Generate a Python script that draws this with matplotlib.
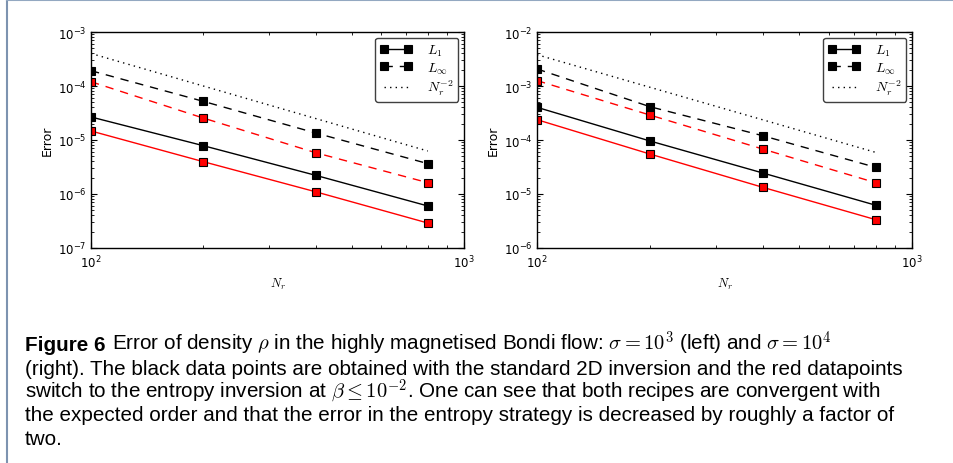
import numpy as np
import matplotlib
matplotlib.use("Agg")
import matplotlib.pyplot as plt
from matplotlib.lines import Line2D
from matplotlib.ticker import LogLocator, NullFormatter

plt.rcParams["font.family"] = ["DejaVu Sans"]
plt.rcParams["mathtext.fontset"] = "dejavusans"
plt.rcParams["axes.unicode_minus"] = False

# Radial resolution of the runs
N = [100, 200, 400, 800]

# sigma = 1e3: standard 2D inversion (black) and entropy switch (red)
left_l1_std = [2.67e-5, 7.85e-6, 2.22e-6, 6.0e-7]
left_linf_std = [1.92e-4, 5.2e-5, 1.35e-5, 3.65e-6]
left_l1_ent = [1.47e-5, 3.97e-6, 1.10e-6, 2.9e-7]
left_linf_ent = [1.20e-4, 2.55e-5, 5.82e-6, 1.62e-6]

# sigma = 1e4
right_l1_std = [4.03e-4, 9.6e-5, 2.45e-5, 6.2e-6]
right_linf_std = [2.07e-3, 4.14e-4, 1.20e-4, 3.12e-5]
right_l1_ent = [2.38e-4, 5.5e-5, 1.33e-5, 3.35e-6]
right_linf_ent = [1.26e-3, 2.9e-4, 6.8e-5, 1.62e-5]

# second-order reference slope, end points
ref_N = [100, 800]
left_ref = [4.0e-4, 6.25e-6]
right_ref = [3.8e-3, 5.9e-5]

left_ylim = (1e-7, 1e-3)
right_ylim = (1e-6, 1e-2)

W, H = 954, 464
fig = plt.figure(figsize=(W / 100, H / 100), dpi=100)


def px_axes(x0, x1, y0, y1):
    return fig.add_axes([x0 / W, 1 - y1 / H, (x1 - x0) / W, (y1 - y0) / H])


DASHED = (0, (6, 5))
DOTTED = (0, (1, 3))


def panel(ax, l1_std, linf_std, l1_ent, linf_ent, ref, ylim):
    mk = dict(marker="s", markersize=6, markeredgewidth=0.8,
              markeredgecolor="black")
    ax.plot(N, l1_std, color="black", lw=1, ls="-", markerfacecolor="black",
            label=r"$L_1$", **mk)
    ax.plot(N, linf_std, color="black", lw=1, ls=DASHED,
            markerfacecolor="black", label=r"$L_\infty$", **mk)
    ax.plot(N, l1_ent, color="red", lw=1, ls="-", markerfacecolor="red", **mk)
    ax.plot(N, linf_ent, color="red", lw=1, ls=DASHED, markerfacecolor="red",
            **mk)
    ax.plot(ref_N, ref, color="black", lw=1, ls=DOTTED, label=r"$N_r^{-2}$")

    ax.set_xscale("log")
    ax.set_yscale("log")
    ax.set_xlim(100, 1000)
    ax.set_ylim(*ylim)
    for axis in (ax.xaxis, ax.yaxis):
        axis.set_major_locator(LogLocator(base=10, numticks=12))
        axis.set_minor_locator(LogLocator(base=10, subs=np.arange(2, 10),
                                          numticks=40))
        axis.set_minor_formatter(NullFormatter())
    ax.tick_params(which="both", direction="in", top=True, right=True,
                   labelsize=8.5, color="black")
    ax.tick_params(which="major", length=4, width=0.8)
    ax.tick_params(which="minor", length=2, width=0.6)
    ax.tick_params(axis="x", which="major", pad=4)
    ax.tick_params(axis="y", which="major", pad=3)
    for s in ax.spines.values():
        s.set_linewidth(1.0)

    ax.set_ylabel("Error", fontsize=9, labelpad=3)
    ax.set_xlabel(r"$N_r$", fontsize=9, labelpad=4, math_fontfamily="cm")

    leg = ax.legend(loc="upper right", numpoints=2, fontsize=10,
                    handlelength=2.3, borderaxespad=0.4, labelspacing=0.18,
                    handletextpad=1.1, borderpad=0.35, fancybox=True,
                    framealpha=1, edgecolor="0.25")
    leg.get_frame().set_linewidth(1.0)
    for t in leg.get_texts():
        t.set_math_fontfamily("cm")


ax1 = px_axes(91, 464, 33, 249)
panel(ax1, left_l1_std, left_linf_std, left_l1_ent, left_linf_ent, left_ref,
      left_ylim)
ax2 = px_axes(537, 912, 33, 249)
panel(ax2, right_l1_std, right_linf_std, right_l1_ent, right_linf_ent,
      right_ref, right_ylim)

# page frame
fig.add_artist(Line2D([7.5 / W, 7.5 / W], [0, 1], transform=fig.transFigure,
                      color="#7d93b0", lw=1.5))
fig.add_artist(Line2D([7.5 / W, 1], [1 - 0.8 / H, 1 - 0.8 / H],
                      transform=fig.transFigure, color="#93a8c1", lw=1.5))

# caption
cap_family = ["Liberation Sans", "DejaVu Sans"]
lines = [
    r"Error of density $\rho$ in the highly magnetised Bondi flow: "
    r"$\sigma = 10^3$ (left) and $\sigma = 10^4$",
    "(right). The black data points are obtained with the standard 2D "
    "inversion and the red datapoints",
    r"switch to the entropy inversion at $\beta \leq 10^{-2}$. One can see "
    "that both recipes are convergent with",
    "the expected order and that the error in the entropy strategy is "
    "decreased by roughly a factor of",
    "two.",
]
baselines = [351.3, 374.7, 398.0, 421.4, 444.7]
x_left = 25
target_width = 877

renderer = fig.canvas.get_renderer()
probe = fig.text(0, 0, lines[1], fontsize=10, family=cap_family)
fs = 10 * target_width / probe.get_window_extent(renderer).width
probe.remove()

head = fig.text(x_left / W, 1 - baselines[0] / H, "Figure 6", fontsize=fs,
                family=cap_family, fontweight="bold", va="baseline")
hw = head.get_window_extent(renderer).width
fig.text((x_left + hw + 7) / W, 1 - baselines[0] / H, lines[0], fontsize=fs,
         family=cap_family, va="baseline", math_fontfamily="cm")
for txt, b in zip(lines[1:], baselines[1:]):
    fig.text(x_left / W, 1 - b / H, txt, fontsize=fs, family=cap_family,
             va="baseline", math_fontfamily="cm")

fig.savefig("out.png", dpi=100)
